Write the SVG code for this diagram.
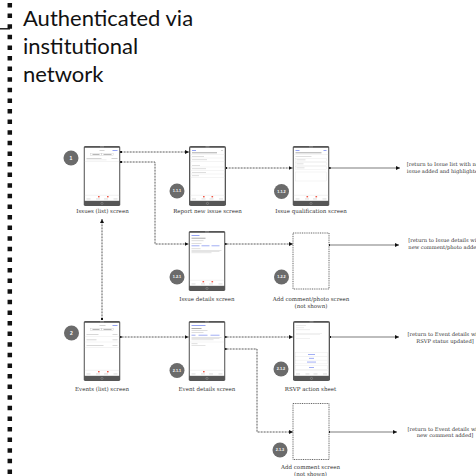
<svg xmlns="http://www.w3.org/2000/svg" xmlns:xlink="http://www.w3.org/1999/xlink" width="476" height="476" viewBox="0 0 476 476">
<style>
.title{font-family:"Lato","Noto Sans",sans-serif;font-size:22px;fill:#111}
.lbl{font-family:"DejaVu Serif","Liberation Serif",serif;font-size:5.5px;fill:#333;text-anchor:middle}
.ret{font-family:"DejaVu Serif","Liberation Serif",serif;font-size:5.2px;fill:#333;text-anchor:middle}
.badge circle{fill:#6b6b6b}
.badge text{font-family:"Liberation Sans",sans-serif;font-weight:bold;fill:#fff;text-anchor:middle;font-size:3.8px}
.dotc{fill:none;stroke:#333;stroke-width:1;stroke-dasharray:0.8 0.7}
.sol{fill:none;stroke:#222;stroke-width:0.6}
.dash{fill:#fff;stroke:#555;stroke-width:0.9;stroke-dasharray:1 0.8}
.g{fill:#c8c8c8}
.gl{fill:#e2e2e2}
.b{fill:#7a8cf0}
.r{fill:#ef5a4a}
.k{fill:#888}
.sep{stroke:#e4e4e4;stroke-width:0.4}
</style>
<defs>
<marker id="arr" viewBox="0 0 6 6" refX="6" refY="3" markerWidth="4" markerHeight="4" markerUnits="userSpaceOnUse" orient="auto"><path d="M0,0 L6,3 L0,6 z" fill="#111"/></marker>
<marker id="dot" viewBox="0 0 2 2" refX="1" refY="1" markerWidth="2.2" markerHeight="2.2" markerUnits="userSpaceOnUse"><rect width="2" height="2" fill="#111"/></marker>
<symbol id="phone" viewBox="0 0 37 60" width="37" height="60">
<rect x="0" y="0" width="37" height="60" rx="1.8" fill="#565656"/>
<rect x="1.3" y="1.8" width="34.4" height="53" fill="#fff"/>
<rect x="16.5" y="0.6" width="4" height="0.7" fill="#aaa"/>
<circle cx="18.5" cy="57.4" r="1.1" fill="none" stroke="#aaa" stroke-width="0.4"/>
<line x1="1.3" y1="49.3" x2="35.7" y2="49.3" stroke="#ddd" stroke-width="0.4"/>
<rect x="3" y="52.6" width="4" height="0.7" fill="#ccc"/>
<rect x="12.5" y="52.6" width="4" height="0.7" fill="#ccc"/>
<rect x="20.5" y="52.6" width="4" height="0.7" fill="#ccc"/>
<rect x="30" y="52.6" width="4" height="0.7" fill="#ccc"/>
</symbol>
</defs>

<!-- left boundary -->
<line x1="9.8" y1="3" x2="9.8" y2="476" stroke="#111" stroke-width="4.5" stroke-dasharray="4.5 6.1"/>
<line x1="0" y1="28.8" x2="10" y2="28.8" stroke="#111" stroke-width="1.4"/>
<text class="title" x="23" y="26">Authenticated via</text>
<text class="title" x="23" y="54">institutional</text>
<text class="title" x="23" y="82">network</text>

<g id="connectors">
<path class="dotc" d="M121,152 H189" marker-start="url(#dot)" marker-end="url(#arr)"/>
<path class="dotc" d="M121,162 H155 V244 H188.5" marker-start="url(#dot)" marker-end="url(#arr)"/>
<path class="dotc" d="M226,168 H292.5" marker-start="url(#dot)" marker-end="url(#arr)"/>
<path class="sol" d="M329.5,168 H400" marker-start="url(#dot)" marker-end="url(#arr)"/>
<path class="dotc" d="M225.5,244 H293" marker-start="url(#dot)" marker-end="url(#arr)"/>
<path class="sol" d="M329,245 H399" marker-start="url(#dot)" marker-end="url(#arr)"/>
<path class="dotc" d="M102,319 V219" marker-start="url(#dot)" marker-end="url(#arr)"/>
<path class="dotc" d="M120.5,337 H188.5" marker-start="url(#dot)" marker-end="url(#arr)"/>
<path class="dotc" d="M225.5,337 H293" marker-start="url(#dot)" marker-end="url(#arr)"/>
<path class="dotc" d="M225.5,349 H257 V432 H293" marker-start="url(#dot)" marker-end="url(#arr)"/>
<path class="sol" d="M330,337 H399" marker-start="url(#dot)" marker-end="url(#arr)"/>
<path class="sol" d="M329,432 H397" marker-start="url(#dot)" marker-end="url(#arr)"/>
</g>

<!-- 1 Issues list -->
<g id="issues-list" transform="translate(83.5,146)">
<use xlink:href="#phone"/>
<rect class="g" x="16" y="4.2" width="5" height="0.8"/>
<rect class="b" x="29" y="4.2" width="5" height="0.8"/>
<rect x="7" y="7.5" width="11" height="2" fill="none" stroke="#bbb" stroke-width="0.3"/>
<rect x="18" y="7.5" width="12" height="2" fill="none" stroke="#bbb" stroke-width="0.3"/>
<rect class="k" x="9" y="8.2" width="7" height="0.6"/>
<rect class="k" x="20" y="8.2" width="8" height="0.6"/>
<rect class="g" x="3" y="12" width="15" height="0.8"/>
<rect class="g" x="28" y="12" width="6" height="0.8"/>
<rect class="gl" x="3" y="13.6" width="20" height="0.6"/>
<line class="sep" x1="1.3" y1="15.5" x2="35.7" y2="15.5"/>
<rect class="r" x="14.5" y="50" width="1.6" height="1.4"/>
<rect class="r" x="23.5" y="50" width="1.6" height="1.4"/>
</g>
<g class="badge" id="b1"><circle cx="71" cy="158" r="7.5"/><text x="71" y="160" style="font-size:5px">1</text></g>
<text class="lbl" x="102.5" y="213">Issues (list) screen</text>

<!-- 1.1.1 Report new issue -->
<g id="report-new-issue" transform="translate(189,146)">
<use xlink:href="#phone"/>
<rect class="b" x="3" y="4" width="4" height="0.8"/>
<rect class="g" x="32" y="4" width="2" height="0.8"/>
<rect class="k" x="3" y="6.5" width="25" height="0.7"/>
<line class="sep" x1="1.3" y1="8.5" x2="35.7" y2="8.5"/>
<rect class="g" x="3" y="10" width="12" height="0.6"/>
<line class="sep" x1="1.3" y1="12" x2="35.7" y2="12"/>
<rect class="g" x="3" y="13.5" width="15" height="0.6"/>
<line class="sep" x1="1.3" y1="15.5" x2="35.7" y2="15.5"/>
<rect class="g" x="3" y="19" width="8" height="0.6"/>
<line class="sep" x1="1.3" y1="21" x2="35.7" y2="21"/>
<rect class="g" x="3" y="22.5" width="14" height="0.6"/>
<line class="sep" x1="1.3" y1="24.5" x2="35.7" y2="24.5"/>
<rect class="g" x="3" y="26" width="14" height="0.6"/>
<line class="sep" x1="1.3" y1="28" x2="35.7" y2="28"/>
<rect class="g" x="3" y="29.5" width="7" height="0.6"/>
<line class="sep" x1="1.3" y1="31.5" x2="35.7" y2="31.5"/>
<rect class="r" x="14" y="50" width="1.6" height="1.4"/>
<rect class="r" x="22.5" y="50" width="1.6" height="1.4"/>
</g>
<g class="badge" id="b111"><circle cx="177" cy="191" r="7.5"/><text x="177" y="192.3">1.1.1</text></g>
<text class="lbl" x="207.5" y="213">Report new issue screen</text>

<!-- 1.1.2 Issue qualification -->
<g id="issue-qualification" transform="translate(292.5,146)">
<use xlink:href="#phone"/>
<rect class="b" x="3" y="4" width="4" height="0.8"/>
<rect class="b" x="31" y="4" width="3" height="0.8"/>
<rect class="k" x="3" y="6.5" width="26" height="0.7"/>
<line class="sep" x1="1.3" y1="8.5" x2="35.7" y2="8.5"/>
<rect class="g" x="3" y="10" width="16" height="0.6"/>
<rect x="3" y="12.5" width="31" height="3" fill="none" stroke="#ddd" stroke-width="0.3"/>
<rect class="g" x="4" y="13.6" width="9" height="0.6"/>
<rect x="3" y="16.5" width="31" height="3" fill="none" stroke="#ddd" stroke-width="0.3"/>
<rect class="g" x="4" y="17.6" width="7" height="0.6"/>
<rect x="3" y="20.5" width="31" height="3" fill="none" stroke="#ddd" stroke-width="0.3"/>
<rect class="g" x="4" y="21.6" width="8" height="0.6"/>
<rect x="3" y="26" width="31" height="9" fill="none" stroke="#ddd" stroke-width="0.3"/>
<rect class="r" x="14" y="50" width="1.6" height="1.4"/>
<rect class="r" x="23" y="50" width="1.6" height="1.4"/>
</g>
<g class="badge" id="b112"><circle cx="281.5" cy="191.5" r="7.5"/><text x="281.5" y="192.8">1.1.2</text></g>
<text class="lbl" x="311" y="213">Issue qualification screen</text>
<g id="ret1"><text class="ret" x="445" y="166">[return to Issue list with new</text><text class="ret" x="445" y="173.2">issue added and highlighted]</text></g>

<!-- 1.2.1 Issue details -->
<g id="issue-details" transform="translate(188.5,231)">
<use xlink:href="#phone"/>
<rect class="b" x="3" y="4" width="8" height="0.8"/>
<rect class="k" x="3" y="6.8" width="14" height="0.7"/>
<rect class="g" x="3" y="9.5" width="12" height="0.6"/>
<rect class="g" x="3" y="12" width="10" height="0.6"/>
<rect class="b" x="3" y="14.5" width="8" height="0.7"/>
<rect class="b" x="13" y="14.5" width="8" height="0.7"/>
<rect class="b" x="23" y="14.5" width="8" height="0.7"/>
<rect class="g" x="3" y="17.5" width="9" height="0.6"/>
<rect class="g" x="3" y="19" width="30" height="0.5"/>
<rect class="g" x="3" y="20.3" width="28" height="0.5"/>
<rect class="g" x="3" y="21.6" width="20" height="0.5"/>
<rect class="r" x="14" y="50" width="1.6" height="1.4"/>
<rect class="r" x="23" y="50" width="1.6" height="1.4"/>
</g>
<g class="badge" id="b121"><circle cx="177" cy="277" r="7.5"/><text x="177" y="278.3">1.2.1</text></g>
<text class="lbl" x="207" y="301">Issue details screen</text>

<!-- 1.2.2 Add comment/photo (not shown) -->
<g id="add-comment-photo"><rect class="dash" x="293" y="233" width="36" height="56"/></g>
<g class="badge" id="b122"><circle cx="281.5" cy="277" r="7.5"/><text x="281.5" y="278.3">1.2.2</text></g>
<text class="lbl" x="311" y="301">Add comment/photo screen</text>
<text class="lbl" x="311" y="308">(not shown)</text>
<g id="ret2"><text class="ret" x="445" y="242">[return to Issue details with</text><text class="ret" x="445" y="249">new comment/photo added]</text></g>

<!-- 2 Events list -->
<g id="events-list" transform="translate(83.5,321)">
<use xlink:href="#phone"/>
<rect class="g" x="16" y="4.2" width="6" height="0.8"/>
<rect class="b" x="29" y="4.2" width="5" height="0.8"/>
<rect x="7" y="7.5" width="11" height="2" fill="none" stroke="#bbb" stroke-width="0.3"/>
<rect x="18" y="7.5" width="12" height="2" fill="none" stroke="#bbb" stroke-width="0.3"/>
<rect class="k" x="9" y="8.2" width="7" height="0.6"/>
<rect class="k" x="20" y="8.2" width="8" height="0.6"/>
<rect class="g" x="3" y="13" width="12" height="0.7"/>
<rect class="g" x="29" y="13" width="5" height="0.7"/>
<line class="sep" x1="1.3" y1="15.5" x2="35.7" y2="15.5"/>
<rect class="g" x="3" y="18.5" width="10" height="0.7"/>
<rect class="g" x="29" y="18.5" width="5" height="0.7"/>
<line class="sep" x1="1.3" y1="21" x2="35.7" y2="21"/>
<rect class="g" x="3" y="24" width="17" height="0.7"/>
<rect class="g" x="29" y="24" width="5" height="0.7"/>
<line class="sep" x1="1.3" y1="26.5" x2="35.7" y2="26.5"/>
<rect class="r" x="14.5" y="50" width="1.6" height="1.4"/>
<rect class="r" x="23.5" y="50" width="1.6" height="1.4"/>
</g>
<g class="badge" id="b2"><circle cx="71.5" cy="333" r="7.5"/><text x="71.5" y="335" style="font-size:5px">2</text></g>
<text class="lbl" x="102" y="391">Events (list) screen</text>

<!-- 2.1.1 Event details -->
<g id="event-details" transform="translate(188.5,321)">
<use xlink:href="#phone"/>
<rect class="b" x="3" y="4" width="14" height="0.8"/>
<rect class="k" x="3" y="7" width="10" height="0.7"/>
<rect class="g" x="3" y="9" width="16" height="0.6"/>
<rect class="g" x="3" y="11" width="12" height="0.6"/>
<rect class="b" x="3" y="13.8" width="4" height="0.7"/>
<rect class="b" x="10" y="13.8" width="9" height="0.7"/>
<rect class="b" x="22" y="13.8" width="9" height="0.7"/>
<rect class="g" x="3" y="16" width="30" height="0.5"/>
<rect class="g" x="3" y="17.3" width="28" height="0.5"/>
<rect class="g" x="3" y="18.6" width="22" height="0.5"/>
<line class="sep" x1="1.3" y1="21" x2="35.7" y2="21"/>
<rect class="g" x="3" y="22.5" width="6" height="0.6"/>
<rect class="g" x="3" y="24" width="14" height="0.5"/>
<rect class="r" x="14.5" y="50" width="1.6" height="1.4"/>
</g>
<g class="badge" id="b211"><circle cx="177" cy="370.5" r="7.5"/><text x="177" y="371.8">2.1.1</text></g>
<text class="lbl" x="207" y="391">Event details screen</text>

<!-- 2.1.2 RSVP action sheet -->
<g id="rsvp-action-sheet" transform="translate(293,321)">
<use xlink:href="#phone"/>
<rect class="gl" x="3" y="4" width="10" height="0.7"/>
<rect class="gl" x="3" y="6.5" width="8" height="0.6"/>
<rect class="gl" x="3" y="8.5" width="14" height="0.6"/>
<rect class="gl" x="3" y="12" width="26" height="0.5"/>
<rect class="gl" x="3" y="13.3" width="24" height="0.5"/>
<rect class="gl" x="3" y="17" width="14" height="0.5"/>
<rect x="2.5" y="31.5" width="32" height="3.8" fill="#fff" stroke="#ddd" stroke-width="0.3"/>
<rect x="2.5" y="35.3" width="32" height="3.8" fill="#fff" stroke="#ddd" stroke-width="0.3"/>
<rect x="2.5" y="39.1" width="32" height="3.8" fill="#fff" stroke="#ddd" stroke-width="0.3"/>
<rect x="2.5" y="44.5" width="32" height="3.8" fill="#fff" stroke="#ddd" stroke-width="0.3"/>
<rect class="b" x="15" y="33.1" width="7" height="0.7"/>
<rect class="b" x="16" y="36.9" width="5" height="0.7"/>
<rect class="b" x="14" y="40.7" width="9" height="0.7"/>
<rect class="b" x="16" y="46.1" width="5" height="0.7"/>
</g>
<g class="badge" id="b212"><circle cx="281" cy="369" r="7.5"/><text x="281" y="370.3">2.1.2</text></g>
<text class="lbl" x="310.5" y="391">RSVP action sheet</text>
<g id="ret3"><text class="ret" x="445" y="335.8">[return to Event details with</text><text class="ret" x="445" y="342.8">RSVP status updated]</text></g>

<!-- 2.1.3 Add comment (not shown) -->
<g id="add-comment"><rect class="dash" x="293" y="403.5" width="36" height="56"/></g>
<g class="badge" id="b213"><circle cx="280" cy="450" r="7.5"/><text x="280" y="451.3">2.1.3</text></g>
<text class="lbl" x="310.5" y="469.2">Add comment screen</text>
<text class="lbl" x="310.5" y="476">(not shown)</text>
<g id="ret4"><text class="ret" x="445" y="430.8">[return to Event details with</text><text class="ret" x="445" y="437">new comment added]</text></g>
</svg>
